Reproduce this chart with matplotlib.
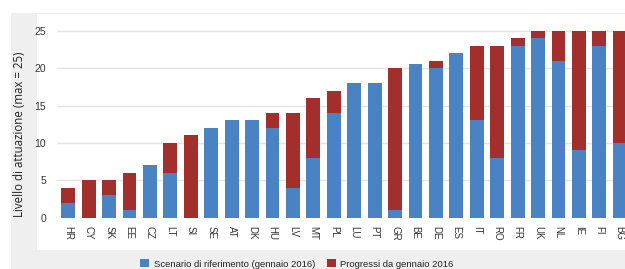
import matplotlib
matplotlib.use("Agg")
import matplotlib.pyplot as plt
from matplotlib.patches import Rectangle, Patch

countries = ["HR", "CY", "SK", "EE", "CZ", "LT", "SI", "SE", "AT", "DK", "HU", "LV", "MT", "PL",
             "LU", "PT", "GR", "BE", "DE", "ES", "IT", "RO", "FR", "UK", "NL", "IE", "FI", "BG"]
baseline = [2, 0, 3, 1, 7, 6, 0, 12, 13, 13, 12, 4, 8, 14,
            18, 18, 1, 20.5, 20, 22, 13, 8, 23, 24, 21, 9, 23, 10]
total = [4, 5, 5, 6, 7, 10, 11, 12, 13, 13, 14, 14, 16, 17,
         18, 18, 20, 20.5, 21, 22, 23, 23, 24, 25, 25, 25, 25, 25]
progress = [t - b for t, b in zip(total, baseline)]
yticks = [0, 5, 10, 15, 20, 25]
label_base = "Scenario di riferimento (gennaio 2016)"
label_prog = "Progressi da gennaio 2016"
ylabel = "Livello di attuazione (max = 25)"

W, H = 625, 269
fig = plt.figure(figsize=(W / 100, H / 100), dpi=100, facecolor="white")

# background frame
fig.patches.append(Rectangle((11 / W, 0), 1 - 11 / W, 1 - 13 / H, transform=fig.transFigure,
                             facecolor="#efefef", edgecolor="none", zorder=-2))
fig.patches.append(Rectangle((37 / W, 1 - 250 / H), 1 - 37 / W, (250 - 14) / H, transform=fig.transFigure,
                             facecolor="white", edgecolor="none", zorder=-1))

left_px, right_px = 57, 632
bottom_px, top_px = 217.7, 15
ax = fig.add_axes([left_px / W, 1 - bottom_px / H, (right_px - left_px) / W, (bottom_px - top_px) / H])
ax.set_facecolor("none")

blue = "#4a83c4"
red = "#a22f2c"
x = list(range(len(countries)))
ax.bar(x, baseline, width=0.68, color=blue, zorder=3, label=label_base)
ax.bar(x, progress, width=0.68, bottom=baseline, color=red, zorder=3, label=label_prog)

ax.set_xlim(-0.55, 27.6)
ax.set_ylim(0, 27.1)
ax.set_yticks(yticks)
ax.set_xticks(x)
ax.set_xticklabels(countries, rotation=-90, fontsize=7, family="Liberation Sans", color="#333333")
for lab in ax.get_yticklabels():
    lab.set_fontfamily("Liberation Sans")
ax.tick_params(axis="y", length=0, pad=8, labelsize=7.5, labelcolor="#333333")
ax.tick_params(axis="x", length=0, pad=6)
ax.grid(axis="y", color="#e4e4e4", linewidth=1, zorder=0)
for s in ax.spines.values():
    s.set_visible(False)

fig.text(20 / W, 1 - 134 / H, ylabel, rotation=90, ha="center", va="center",
         fontsize=8.3, family="Open Sans", color="#222222")

handles = [Patch(facecolor=blue, edgecolor="none"), Patch(facecolor=red, edgecolor="none")]
fig.legend(handles, [label_base, label_prog], loc="center", bbox_to_anchor=(297 / W, 1 - 264 / H),
           ncol=2, frameon=False, prop={"family": "Liberation Sans", "size": 6.8},
           handlelength=0.9, handleheight=0.9, handletextpad=0.5, columnspacing=1.3,
           labelcolor="#222222")

fig.savefig("out.png", dpi=100, facecolor="white")
